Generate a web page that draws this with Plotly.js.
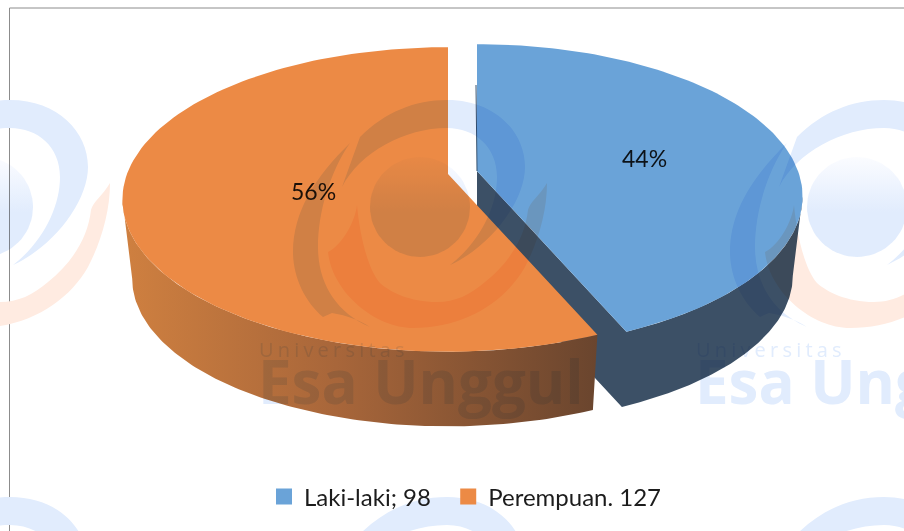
<!DOCTYPE html>
<html>
<head>
<meta charset="utf-8">
<script src="https://cdn.plot.ly/plotly-3.0.1.min.js"></script>
<style>
html,body{margin:0;padding:0;background:#fff}
#chart{width:904px;height:531px}
/* the watermark sits on top of the chart like a printed page background */
#chart .layer-above .shapelayer path{mix-blend-mode:multiply}
#chart .wm-ball .js-fill{mix-blend-mode:multiply}
</style>
</head>
<body>
<div id="chart"></div>
<script>
// ---- chart data ----
var categories = ["Laki-laki", "Perempuan"];
var values = [98, 127];
var legendLabels = ["Laki-laki; 98", "Perempuan. 127"];
var topColors = ["#6aa3d8", "#ec8a45"];
var percentLabels = ["44%", "56%"];

// ---- projection of the tilted, exploded pie onto the axes ----
var RX = 321, RY = 148, PERSP = 0.167, DEPTH = 80, LOWER = 0.97;
var apexes = [[477, 171], [448, 174]];
function proj(deg, apex, lower) {
  var t = deg * Math.PI / 180, u = Math.sin(t), v = Math.cos(t), s = lower ? LOWER : 1, w = 1 + PERSP * v;
  return [apex[0] + s * RX * u / w, apex[1] - s * RY * v / w + (lower ? DEPTH : 0)];
}
function arc(a0, a1, apex, lower) {
  var pts = [], n = 120;
  for (var i = 0; i <= n; i++) pts.push(proj(a0 + (a1 - a0) * i / n, apex, lower));
  return pts;
}
function poly(pts, extra) {
  return Object.assign({
    type: "scatter", mode: "lines", x: pts.map(function (p) { return p[0]; }), y: pts.map(function (p) { return p[1]; }),
    fill: "toself", line: { width: 0 }, hoverinfo: "skip", showlegend: false
  }, extra);
}
var total = values[0] + values[1];
var split = 360 * values[0] / total;
var extremeR = Math.acos(-PERSP) * 180 / Math.PI, extremeL = 360 - extremeR;
var blueA = apexes[0], orangeA = apexes[1];
var lowerBlueApex = [blueA[0], blueA[1] + DEPTH];

var traces = [
  poly([blueA].concat(arc(split, extremeR, blueA, false), arc(extremeR, split, blueA, true), [lowerBlueApex]), { fillcolor: "#3c5066" }),
  poly([blueA].concat(arc(0, split, blueA, false)), { fillcolor: topColors[0] }),
  poly(arc(split, extremeL, orangeA, false).concat(arc(extremeL, split, orangeA, true)), {
    fillcolor: "#b06a3a",
    fillgradient: { type: "horizontal", colorscale: [[0, "#cf8040"], [0.45, "#a8663a"], [1, "#6a452e"]] }
  }),
  poly([orangeA].concat(arc(split, 360, orangeA, false)), { fillcolor: topColors[1] }),
  { type: "scatter", mode: "lines", x: [blueA[0] - 1, blueA[0]], y: [85, blueA[1]], line: { color: "#33506e", width: 1 }, hoverinfo: "skip", showlegend: false }
];
// legend entries (no-break spaces only widen the gap between the two entries)
categories.forEach(function (c, i) {
  traces.push({ type: "scatter", mode: "markers", x: [null], y: [null], name: legendLabels[i] + (i === 0 ? "\u00a0\u00a0" : ""),
    marker: { symbol: "square", size: 16, color: topColors[i] }, hoverinfo: "skip" });
});

// ---- watermark ----
var WM_BLUE = "#e1ecfd", WM_ORANGE = "#ffebe1";
var arcOuter = "M-78,-20 L-60,-70 C-35,-95 -5,-107 27,-107 C75,-107 105,-75 105,-40 C105,-5 70,40 30,58 C60,35 77,0 77,-30 C77,-60 55,-79 27,-79 C-15,-79 -60,-55 -78,-20 Z";
var arcLeft = "M-70,-64 C-105,-30 -127,5 -127,45 C-127,70 -115,95 -97,110 L-88,106 C-75,108 -60,113 -50,120 C-85,105 -102,75 -102,40 C-102,5 -90,-35 -70,-64 Z";
var crescent = "M-63,-2 C-65,15 -78,38 -92,45 C-88,85 -45,121 -7,121 C45,121 85,95 105,60 C118,35 127,5 127,-24 C120,-12 110,-5 108,3 C105,30 90,55 65,75 C50,88 35,95 17,95 C-10,95 -30,85 -40,76 C-52,62 -60,30 -63,-2 Z";
function place(path, cx, cy) {
  return path.replace(/(-?\d+),(-?\d+)/g, function (m, a, b) { return (+a + cx) + "," + (+b + cy); });
}
var shapes = [
  { type: "line", xref: "x", yref: "y", x0: 9.5, x1: 9.5, y0: 8, y1: 531, line: { color: "#8c8c8c", width: 1 }, layer: "above" },
  { type: "line", xref: "x", yref: "y", x0: 9.5, x1: 904, y0: 8, y1: 8, line: { color: "#8c8c8c", width: 1 }, layer: "above" }
];
var ballCount = 0;
var logoXs = [-17, 420, 857], logoYs = [207, 604];
logoYs.forEach(function (ly) {
  logoXs.forEach(function (lx) {
    shapes.push({ type: "path", xref: "x", yref: "y", layer: "above", path: place(arcOuter, lx, ly), fillcolor: WM_BLUE, line: { width: 0 } });
    shapes.push({ type: "path", xref: "x", yref: "y", layer: "above", path: place(arcLeft, lx, ly), fillcolor: WM_BLUE, line: { width: 0 } });
    shapes.push({ type: "path", xref: "x", yref: "y", layer: "above", path: place(crescent, lx, ly), fillcolor: WM_ORANGE, line: { width: 0 } });
    var ball = [];
    for (var i = 0; i <= 72; i++) ball.push([lx + 50 * Math.cos(i * Math.PI / 36), ly + 50 * Math.sin(i * Math.PI / 36)]);
    traces.push(poly(ball, { fillcolor: WM_BLUE,
      fillgradient: { type: "vertical", colorscale: [[0, "#e1ecfd"], [0.45, "#e1ecfd"], [1, "#fbfcff"]] } }));
    ballCount++;
  });
});

var annotations = [];
function addText(text, x, y, size, color, anchor, family) {
  annotations.push({ xref: "x", yref: "y", x: x, y: y, text: text, showarrow: false, xanchor: anchor, yanchor: "middle",
    font: { size: size, color: color, family: family } });
}
[-437, 0, 437].forEach(function (dx) {
  addText("<b>Esa Unggul</b>", 256 + dx, 381, 60, WM_BLUE, "left", "'Open Sans', sans-serif");
  addText("<b>Esa Unggul</b>", 256 + dx, -9, 60, WM_BLUE, "left", "'Open Sans', sans-serif");
  addText("Universitas", 280 + dx, 349, 20, WM_BLUE, "left", "'Open Sans', sans-serif");
});
addText(percentLabels[0], 644, 158, 23, "#1c1c1c", "center", "Lato, sans-serif");
addText(percentLabels[1], 313, 191, 23, "#1c1c1c", "center", "Lato, sans-serif");

var layout = {
  width: 904, height: 531,
  margin: { l: 0, r: 0, t: 0, b: 0 },
  paper_bgcolor: "#ffffff", plot_bgcolor: "#ffffff",
  xaxis: { range: [0, 904], visible: false, fixedrange: true },
  yaxis: { range: [531, 0], visible: false, fixedrange: true },
  shapes: shapes, annotations: annotations,
  legend: { orientation: "h", x: 264 / 904, y: 1 - 497 / 531, xref: "paper", yref: "paper", yanchor: "middle", xanchor: "left",
    font: { family: "Lato, sans-serif", size: 24, color: "#1c1c1c" }, bgcolor: "rgba(0,0,0,0)", itemwidth: 30 }
};
Plotly.newPlot("chart", traces, layout, { displayModeBar: false, staticPlot: true }).then(function () {
  // the last traces are the logo balls
  var tr = document.querySelectorAll("#chart .scatterlayer .trace");
  for (var i = tr.length - ballCount; i < tr.length; i++) tr[i].classList.add("wm-ball");
  document.querySelectorAll(".annotation-text").forEach(function (t) {
    if (t.textContent === "Universitas") t.style.letterSpacing = "4.2px";
  });
  // the top layer holds the annotations and the legend: it blends too, so the watermark text prints over the pie
  var info = document.querySelector("#chart .infolayer");
  if (info && info.ownerSVGElement) info.ownerSVGElement.style.mixBlendMode = "multiply";
});
</script>
</body>
</html>
